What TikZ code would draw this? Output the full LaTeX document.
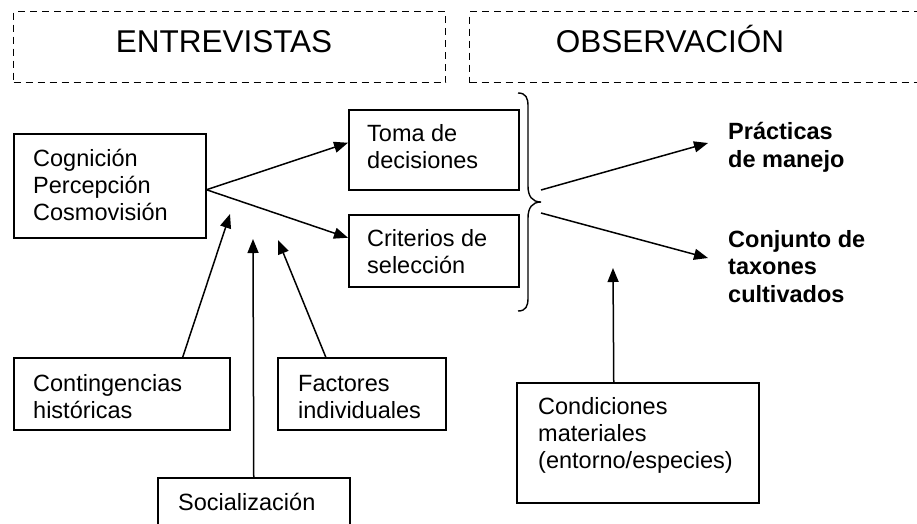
\documentclass[tikz,border=0pt]{standalone}
\usepackage{fontspec}
\setmainfont{Liberation Sans}
\usetikzlibrary{arrows.meta}
\tikzset{
  boxnode/.style={draw, line width=1.5pt, rectangle, inner sep=0pt, anchor=north west},
  dashbox/.style={draw, line width=1.3pt, dash pattern=on 7pt off 5pt, rectangle, inner sep=0pt, anchor=north west},
  txt/.style={inner sep=0pt, anchor=base west, align=left, font=\fontsize{23.5pt}{27pt}\selectfont},
  btxt/.style={txt, font=\fontsize{23.5pt}{27.5pt}\selectfont\bfseries},
  title/.style={inner sep=0pt, anchor=base, font=\fontsize{31.5pt}{36pt}\selectfont},
  arr/.style={line width=1.5pt, -{Triangle[length=14pt,width=11pt]}},
  bracepath/.style={line width=1.4pt}
}
\begin{document}
\begin{tikzpicture}[x=1pt,y=-1pt]
\clip (0,0) rectangle (917,523);
\fill[white] (0,0) rectangle (917,523);
% dashed headers
\node[dashbox, minimum width=432pt, minimum height=71pt] (ent) at (13,11) {};
\node[dashbox, minimum width=460pt, minimum height=71pt] (obs) at (469,11) {};
\node[title] (entt) at (224,52) {ENTREVISTAS};
\node[title] (obst) at (670,52) {OBSERVACIÓN};
% boxes (text anchored at the baseline of its last line)
\node[boxnode, minimum width=192pt, minimum height=104pt] (cog) at (13,133) {};
\node[txt] (cogt) at (33,220) {Cognición\\Percepción\\Cosmovisión};
\node[boxnode, minimum width=170pt, minimum height=80pt] (toma) at (348,109) {};
\node[txt] (tomat) at (367,168) {Toma de\\decisiones};
\node[boxnode, minimum width=170pt, minimum height=72pt] (crit) at (348,214) {};
\node[txt] (critt) at (367,273) {Criterios de\\selección};
\node[boxnode, minimum width=216pt, minimum height=72pt] (cont) at (13,357) {};
\node[txt] (contt) at (33,418) {Contingencias\\históricas};
\node[boxnode, minimum width=168pt, minimum height=72pt] (fact) at (277,357) {};
\node[txt] (factt) at (298,418) {Factores\\individuales};
\node[boxnode, minimum width=192pt, minimum height=70pt] (soc) at (157,477) {};
\node[txt] (soct) at (178,510) {Socialización};
\node[boxnode, minimum width=242pt, minimum height=120pt] (cond) at (516,382) {};
\node[txt] (condt) at (538,468) {Condiciones\\materiales\\(entorno/especies)};
% results
\node[btxt] (prac) at (728,167) {Prácticas\\de manejo};
\node[btxt] (conj) at (728,302) {Conjunto de\\taxones\\cultivados};
% brace
\draw[bracepath] (518,93) .. controls (526,93) and (528,98) .. (528,106) -- (528,186)
  .. controls (528,196) and (532,202) .. (541,202)
  .. controls (532,202) and (528,208) .. (528,218) -- (528,298)
  .. controls (528,306) and (526,311) .. (518,311);
% coordinates
\coordinate (bup) at (541,190);
\coordinate (bdn) at (541,213);
\coordinate (pend) at (708,143);
\coordinate (cend) at (708,258);
\coordinate (ctip) at (230,214);
\coordinate (stip) at (253,239);
\coordinate (ftip) at (278,240);
\coordinate (mtip) at (613,268);
% arrows
\draw[arr] ([yshift=-4pt]cog.east) -- ([yshift=7pt]toma.west);
\draw[arr] ([yshift=-4pt]cog.east) -- ([yshift=13pt]crit.west);
\draw[arr] (bup) -- (pend);
\draw[arr] (bdn) -- (cend);
\draw[arr] ([xshift=61pt]cont.north) -- (ctip);
\draw[arr] (soc.north) -- (stip);
\draw[arr] ([xshift=-36pt]fact.north) -- (ftip);
\draw[arr] ([xshift=-24pt]cond.north) -- (mtip);
\end{tikzpicture}
\end{document}
